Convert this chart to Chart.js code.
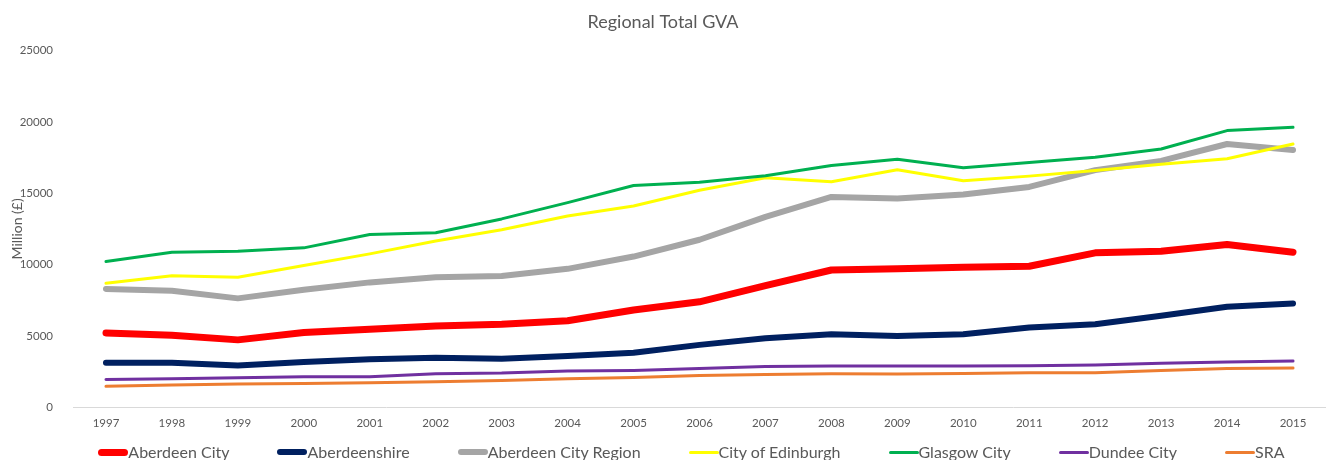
<!DOCTYPE html>
<html>
<head>
<meta charset="utf-8">
<title>Regional Total GVA</title>
<script src="https://cdn.jsdelivr.net/npm/chart.js@4"></script>
<style>
    body { margin: 0; overflow: hidden; background: #ffffff; }
    #wrap { position: relative; width: 1326px; height: 460px; }
    #leyenda {
        position: absolute; left: 57px; right: 0; top: 444px;
        display: flex; justify-content: center; gap: 48px;
        font-family: Lato, sans-serif; font-size: 16px; line-height: 16px; color: #595959;
        white-space: nowrap;
    }
    #leyenda .item { display: flex; align-items: center; }
    #leyenda .muestra { display: inline-block; width: 30px; border-radius: 4px; }
</style>
</head>
<body>
<div id="wrap">
    <canvas id="myChart" width="1326" height="460"></canvas>
    <div id="leyenda"></div>
</div>
<script>
// DATOS
var years = ['1997', '1998', '1999', '2000', '2001', '2002', '2003', '2004', '2005', '2006',
    '2007', '2008', '2009', '2010', '2011', '2012', '2013', '2014', '2015'];

var seriesNames = ['Aberdeen City', 'Aberdeenshire', 'Aberdeen City Region', 'City of Edinburgh',
    'Glasgow City', 'Dundee City', 'SRA'];

var aberdeenCity = [5210, 5050, 4720, 5230, 5470, 5700, 5820, 6060, 6810, 7390, 8520, 9620, 9700, 9810, 9880, 10820, 10940, 11410, 10870];
var aberdeenshire = [3120, 3120, 2930, 3170, 3360, 3470, 3400, 3590, 3820, 4370, 4840, 5120, 5000, 5120, 5590, 5820, 6410, 7040, 7270];
var aberdeenCityRegion = [8290, 8170, 7630, 8240, 8750, 9110, 9200, 9700, 10560, 11740, 13340, 14740, 14630, 14910, 15440, 16620, 17270, 18450, 18030];
var cityOfEdinburgh = [8690, 9220, 9110, 9930, 10750, 11650, 12440, 13400, 14100, 15210, 16080, 15800, 16640, 15870, 16200, 16600, 17040, 17420, 18450];
var glasgowCity = [10210, 10870, 10940, 11170, 12110, 12230, 13200, 14340, 15540, 15770, 16220, 16950, 17390, 16780, 17160, 17530, 18100, 19390, 19620];
var dundeeCity = [1950, 1990, 2060, 2140, 2140, 2350, 2390, 2540, 2580, 2720, 2860, 2890, 2890, 2890, 2910, 2960, 3080, 3170, 3240];
var sra = [1460, 1550, 1620, 1670, 1710, 1780, 1880, 1990, 2090, 2230, 2300, 2350, 2320, 2370, 2420, 2420, 2580, 2720, 2750];

var yTicks = [0, 5000, 10000, 15000, 20000, 25000];

var valores = [aberdeenCity, aberdeenshire, aberdeenCityRegion, cityOfEdinburgh, glasgowCity, dundeeCity, sra];
var colores = ['#FF0000', '#002060', '#A5A5A5', '#FFFF00', '#00B050', '#7030A0', '#ED7D31'];
var grosores = [7, 6, 6, 3, 3, 3, 3];

var textoGris = '#595959';

// later series go on top, like in the original
var datasets = seriesNames.map(function (nombre, i) {
    return {
        label: nombre,
        data: valores[i],
        borderColor: colores[i],
        backgroundColor: colores[i],
        borderWidth: grosores[i],
        borderJoinStyle: 'round',
        borderCapStyle: 'round',
        pointRadius: 0,
        pointHoverRadius: 0,
        tension: 0,
        fill: false,
        order: seriesNames.length - i
    };
});

var configuracion = {
    type: 'line',
    data: {
        labels: years,
        datasets: datasets
    },
    options: {
        responsive: false,
        animation: false,
        layout: {
            padding: { top: 0, right: 0, bottom: 29, left: 0 }
        },
        plugins: {
            legend: { display: false },
            tooltip: { enabled: false },
            title: {
                display: true,
                text: 'Regional Total GVA',
                color: textoGris,
                font: { family: 'Lato', size: 18, weight: 'normal' },
                padding: { top: 11, bottom: 18 }
            }
        },
        scales: {
            x: {
                offset: true,
                grid: { display: false },
                border: { display: true, color: '#D9D9D9', width: 1 },
                ticks: {
                    color: textoGris,
                    font: { family: 'Lato', size: 11.5 },
                    padding: 1,
                    maxRotation: 0,
                    autoSkip: false
                }
            },
            y: {
                min: 0,
                max: 25000,
                grid: { display: false },
                border: { display: false },
                afterBuildTicks: function (axis) {
                    axis.ticks = yTicks.map(function (v) { return { value: v }; });
                },
                afterFit: function (axis) {
                    axis.width = 73;
                },
                ticks: {
                    color: textoGris,
                    font: { family: 'Lato', size: 11.5 },
                    padding: 12,
                    callback: function (v) { return v; }
                },
                title: {
                    display: true,
                    text: 'Million (£)',
                    color: textoGris,
                    font: { family: 'Lato', size: 14 },
                    padding: { top: 9, bottom: 0 }
                }
            }
        }
    }
};

var ctx = document.getElementById('myChart').getContext('2d');
var myChart = new Chart(ctx, configuracion);

// LEYENDA (html, built from the chart's datasets)
function crearLeyenda(chart) {
    var div = document.getElementById('leyenda');
    div.innerHTML = '';
    chart.data.datasets.forEach(function (ds) {
        var item = document.createElement('span');
        item.className = 'item';
        var muestra = document.createElement('span');
        muestra.className = 'muestra';
        muestra.style.height = ds.borderWidth + 'px';
        muestra.style.background = ds.borderColor;
        var texto = document.createElement('span');
        texto.textContent = ds.label;
        item.appendChild(muestra);
        item.appendChild(texto);
        div.appendChild(item);
    });
}
crearLeyenda(myChart);
</script>
</body>
</html>
